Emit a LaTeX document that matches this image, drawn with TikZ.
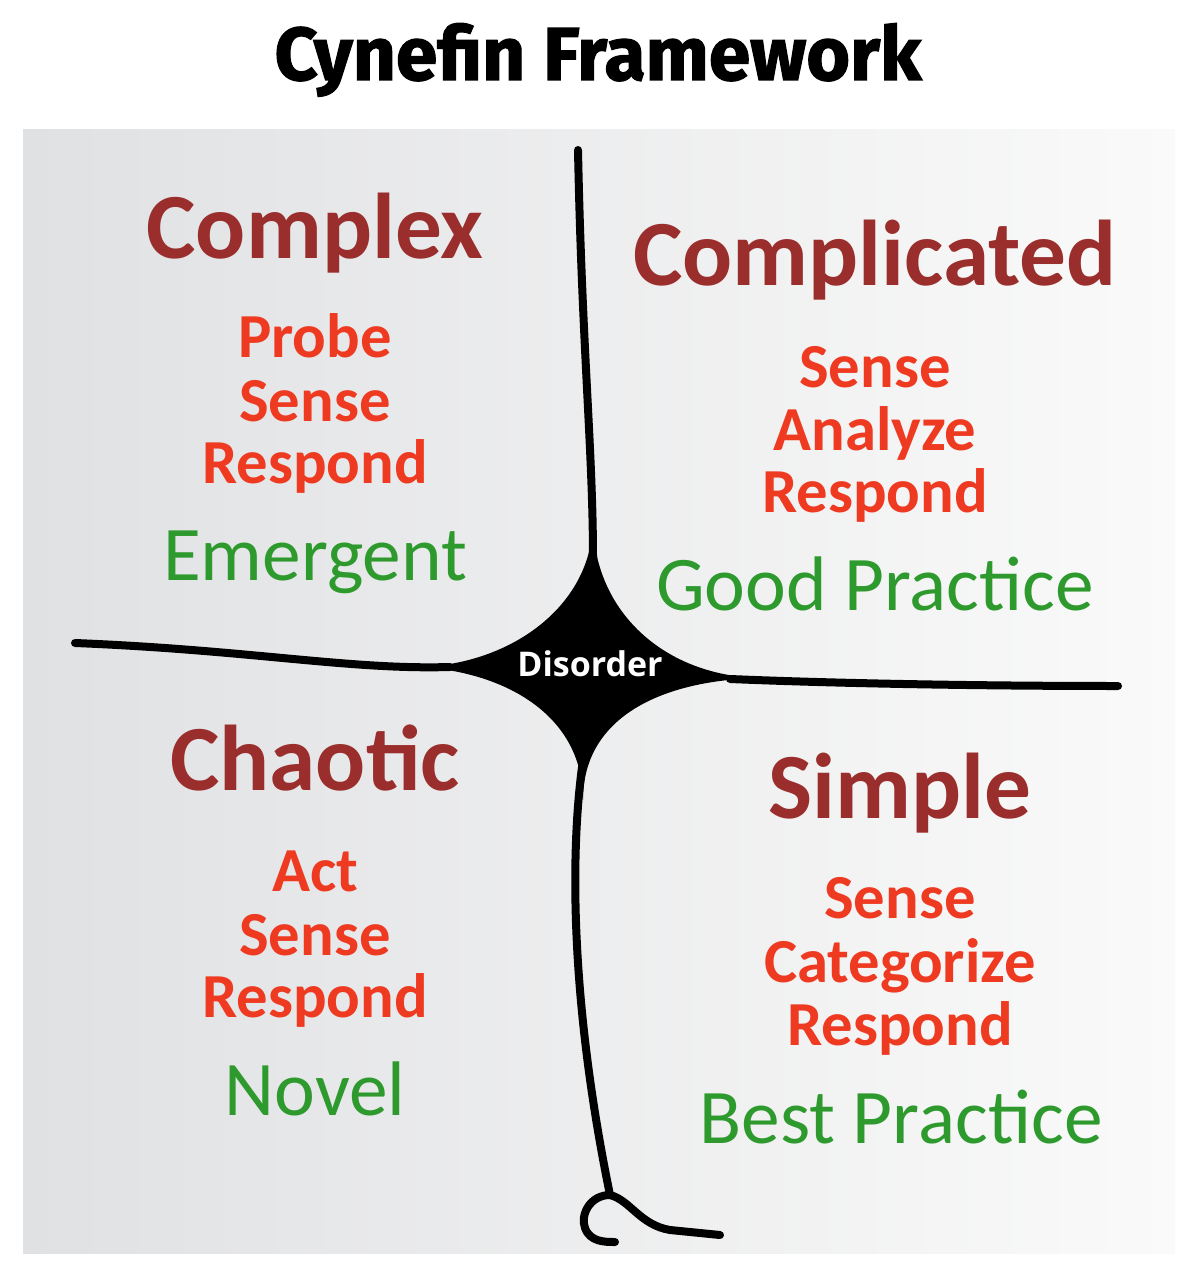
\documentclass[tikz,border=0pt]{standalone}
\usepackage{fontspec}
\usepackage{graphicx}
\setmainfont{Carlito}
\newfontfamily\titlefont[BoldFeatures={FakeBold=1.6}]{Fira Sans}
\newfontfamily\disfont{Open Sans}
\definecolor{hdred}{HTML}{9A2E2C}
\definecolor{actred}{HTML}{EF3A22}
\definecolor{grn}{HTML}{2E9A2E}
\definecolor{bgl}{HTML}{E0E1E3}
\definecolor{bgr}{HTML}{FAFAFA}
\tikzset{
  heading/.style={anchor=base, text=hdred, font=\fontsize{70}{70}\selectfont\bfseries, inner sep=0},
  action/.style={anchor=base, text=actred, font=\fontsize{47}{47}\selectfont\bfseries, inner sep=0},
  practice/.style={anchor=base, text=grn, font=\fontsize{58}{58}\selectfont, inner sep=0},
  border/.style={line width=6pt, line cap=round, black},
}
\begin{document}
\begin{tikzpicture}[x=0.75pt,y=-0.75pt]
\useasboundingbox (0,0) rectangle (1198,1266);
\fill[white] (0,0) rectangle (1198,1266);
\shade[left color=bgl, right color=bgr] (23,130) rectangle (1175,1253);
% title
\node[anchor=base, inner sep=0] (title) at (598,80) {\resizebox{485pt}{!}{\titlefont\bfseries Cynefin Framework}};
% coordinates of the boundary lines
\coordinate (vtop) at (578,150);
\coordinate (vmid) at (593,560);
\coordinate (vlow) at (583,760);
\coordinate (vbot) at (610,1195);
\coordinate (hl) at (75,643);
\coordinate (hlm) at (450,667);
\coordinate (hrm) at (730,679);
\coordinate (hr) at (1118,686);
\coordinate (curlend) at (615,1242);
\coordinate (tailend) at (720,1235);
% lines
\draw[border] (vtop) .. controls (582,350) and (593,450) .. (vmid);
\draw[border] (vlow) .. controls (570,850) and (570,1000) .. (vbot);
\draw[border] (hl) .. controls (250,650) and (350,670) .. (hlm);
\draw[border] (hrm) .. controls (850,684) and (1000,686) .. (hr);
\draw[border] (vbot) .. controls (590,1195) and (580,1215) .. (585,1228) .. controls (590,1242) and (605,1242) .. (curlend);
\draw[border] (vbot) .. controls (630,1200) and (640,1225) .. (670,1230) -- (tailend);
% central blob
\fill[black] (593,520) .. controls (593,605) and (512,664) .. (420,667)
  .. controls (505,672) and (583,715) .. (583,800)
  .. controls (583,715) and (665,680) .. (760,678)
  .. controls (665,676) and (593,612) .. (593,520) -- cycle;
\node[anchor=base, inner sep=0, text=white, font=\disfont\bfseries\fontsize{25.5}{25.5}\selectfont] (disorder) at (590,676) {Disorder};
% Complex
\node[heading] (complex) at (315,258) {Complex};
\node[action] (cx1) at (315,357) {Probe};
\node[action] (cx2) at (315,421) {Sense};
\node[action] (cx3) at (315,483) {Respond};
\node[practice] (cx4) at (315,580) {Emergent};
% Complicated
\node[heading] (complicated) at (875,285) {Complicated};
\node[action] (cd1) at (875,387) {Sense};
\node[action] (cd2) at (875,450) {Analyze};
\node[action] (cd3) at (875,512) {Respond};
\node[practice] (cd4) at (875,610) {Good Practice};
% Chaotic
\node[heading] (chaotic) at (315,790) {Chaotic};
\node[action] (ch1) at (315,891) {Act};
\node[action] (ch2) at (315,955) {Sense};
\node[action] (ch3) at (315,1017) {Respond};
\node[practice] (ch4) at (315,1115) {Novel};
% Simple
\node[heading] (simple) at (900,818) {Simple};
\node[action] (s1) at (900,918) {Sense};
\node[action] (s2) at (900,982) {Categorize};
\node[action] (s3) at (900,1045) {Respond};
\node[practice] (s4) at (901,1143) {Best Practice};
\end{tikzpicture}
\end{document}
